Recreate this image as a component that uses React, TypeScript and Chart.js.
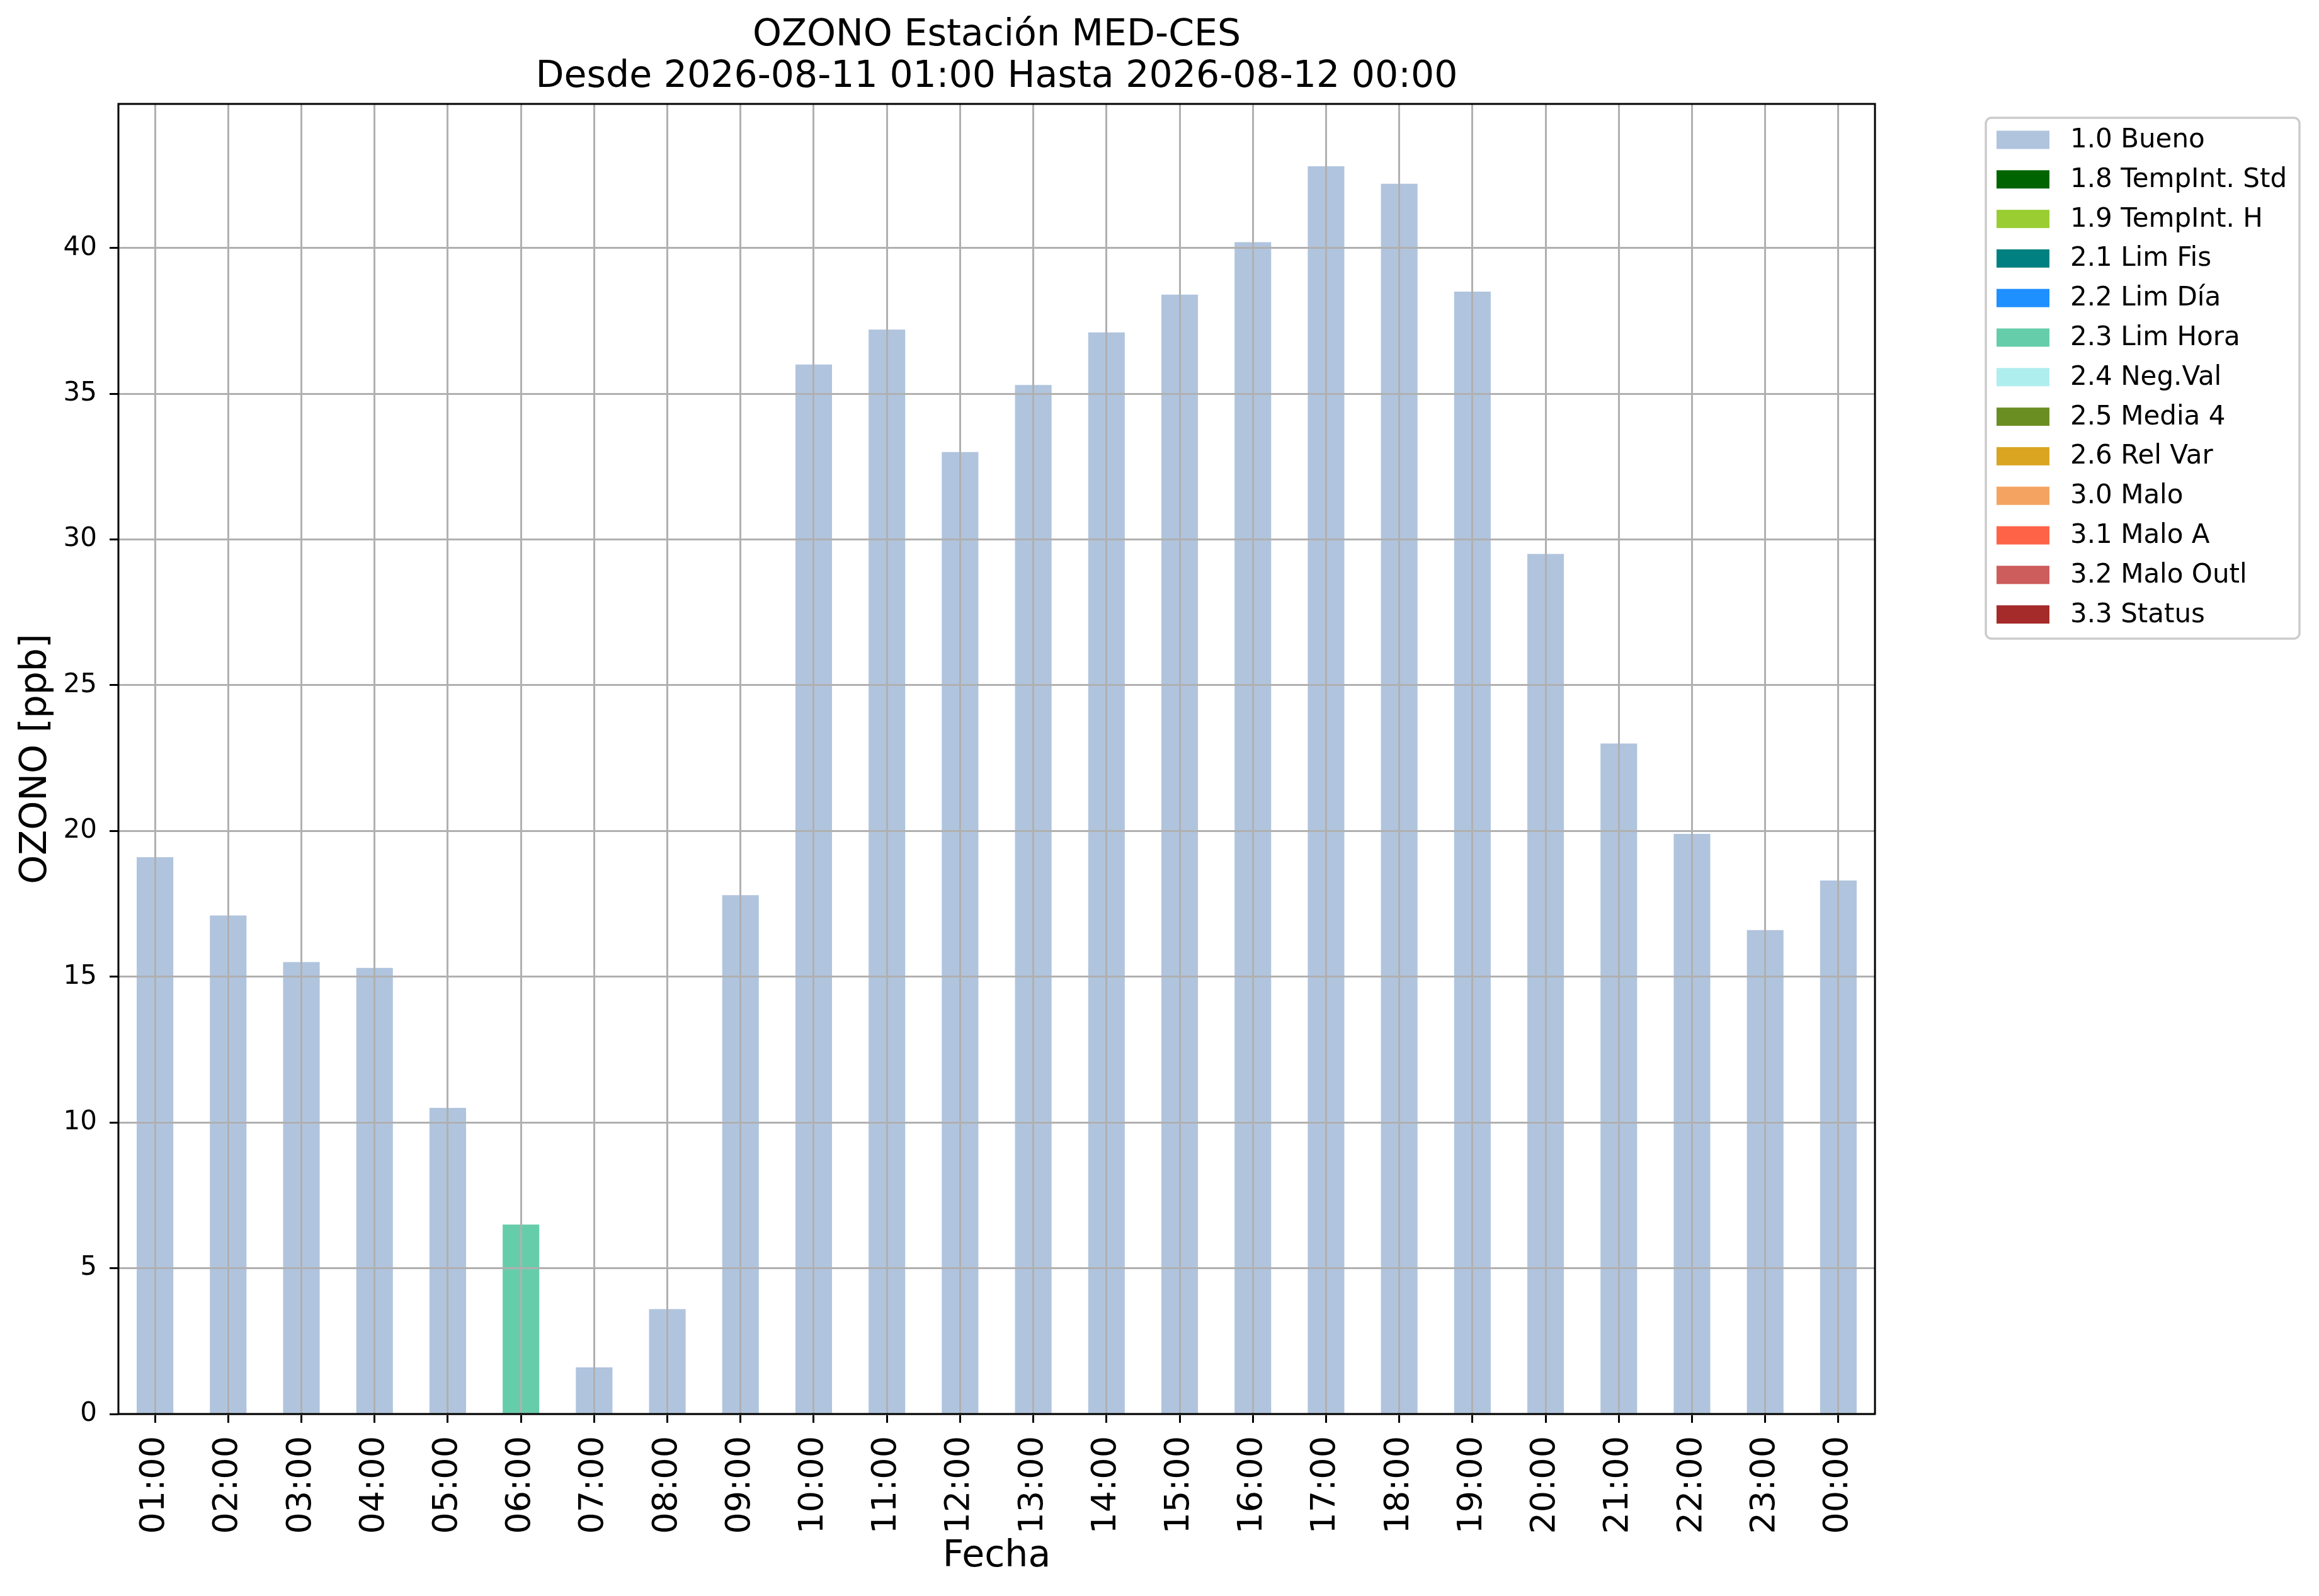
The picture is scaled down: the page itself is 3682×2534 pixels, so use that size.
import React, { useEffect, useRef } from 'react';
import { Chart, registerables } from 'chart.js';

Chart.register(...registerables);

// ---------------- data ----------------
const hours = [
  '01:00', '02:00', '03:00', '04:00', '05:00', '06:00', '07:00', '08:00',
  '09:00', '10:00', '11:00', '12:00', '13:00', '14:00', '15:00', '16:00',
  '17:00', '18:00', '19:00', '20:00', '21:00', '22:00', '23:00', '00:00',
];

const buenoValues = [
  19.1, 17.1, 15.5, 15.3, 10.5, null, 1.6, 3.6,
  17.8, 36.0, 37.2, 33.0, 35.3, 37.1, 38.4, 40.2,
  42.8, 42.2, 38.5, 29.5, 23.0, 19.9, 16.6, 18.3,
];

const limHoraValues = [
  null, null, null, null, null, 6.5, null, null,
  null, null, null, null, null, null, null, null,
  null, null, null, null, null, null, null, null,
];

const emptyValues = hours.map(() => null);

const flagLabels = [
  '1.0 Bueno', '1.8 TempInt. Std', '1.9 TempInt. H', '2.1 Lim Fis', '2.2 Lim Día',
  '2.3 Lim Hora', '2.4 Neg.Val', '2.5 Media 4', '2.6 Rel Var', '3.0 Malo',
  '3.1 Malo A', '3.2 Malo Outl', '3.3 Status',
];

const flagColors = [
  '#B0C4DE', '#006400', '#9ACD32', '#008080', '#1E90FF',
  '#66CDAA', '#AFEEEE', '#6B8E23', '#DAA520', '#F4A460',
  '#FF6347', '#CD5C5C', '#A52A2A',
];

const flagValues = [
  buenoValues, emptyValues, emptyValues, emptyValues, emptyValues,
  limHoraValues, emptyValues, emptyValues, emptyValues, emptyValues,
  emptyValues, emptyValues, emptyValues,
];

const yTickValues = [0, 5, 10, 15, 20, 25, 30, 35, 40];
const yMax = 44.94;

const titleLines = ['OZONO Estación MED-CES', 'Desde 2026-08-11 01:00 Hasta 2026-08-12 00:00'];
const xTitle = 'Fecha';
const yTitle = 'OZONO [ppb]';

// ---------------- styling ----------------
const FONT = 'DejaVu Sans';
const W = 3682;
const H = 2534;
const GRID = '#b0b0b0';
const LABEL_SIZE = 58.5;

const framePlugin = {
  id: 'mplFrame',
  afterDraw(chart: any) {
    const { ctx, chartArea } = chart;
    ctx.save();
    ctx.strokeStyle = '#000';
    ctx.lineWidth = 3;
    ctx.strokeRect(chartArea.left, chartArea.top, chartArea.right - chartArea.left, chartArea.bottom - chartArea.top);
    ctx.restore();
  },
};

const legendPlugin = {
  id: 'mplLegend',
  afterDraw(chart: any) {
    const { ctx, chartArea } = chart;
    const x0 = chartArea.right + 176;
    const y0 = chartArea.top + 22;
    const bw = 498;
    const bh = 827;
    ctx.save();
    ctx.beginPath();
    if ((ctx as any).roundRect) {
      (ctx as any).roundRect(x0, y0, bw, bh, 9);
    } else {
      ctx.rect(x0, y0, bw, bh);
    }
    ctx.fillStyle = 'rgba(255,255,255,0.8)';
    ctx.fill();
    ctx.strokeStyle = '#cccccc';
    ctx.lineWidth = 3.5;
    ctx.stroke();

    ctx.font = `42px "${FONT}"`;
    ctx.textBaseline = 'middle';
    ctx.textAlign = 'left';
    chart.data.datasets.forEach((ds: any, i: number) => {
      const cy = y0 + 35 + i * 62.8;
      ctx.fillStyle = ds.backgroundColor;
      ctx.fillRect(x0 + 17, cy - 14.5, 84, 29);
      ctx.fillStyle = '#000';
      ctx.fillText(ds.label, x0 + 134, cy + 1);
    });
    ctx.restore();
  },
};

export default function App() {
  const canvasRef = useRef<HTMLCanvasElement | null>(null);

  useEffect(() => {
    document.body.style.margin = '0';
    const canvas = canvasRef.current;
    if (!canvas) return;
    Chart.defaults.font.family = FONT;
    Chart.defaults.color = '#000';

    const datasets = flagLabels.map((label, i) => ({
      label,
      data: flagValues[i],
      backgroundColor: flagColors[i],
      borderWidth: 0,
      barPercentage: 0.5,
      categoryPercentage: 1.0,
    }));

    const chart = new Chart(canvas, {
      type: 'bar',
      data: { labels: hours, datasets },
      options: {
        animation: false,
        responsive: false,
        devicePixelRatio: 1,
        layout: { padding: { left: 0, right: 705, top: 0, bottom: 27 } },
        plugins: {
          legend: { display: false },
          tooltip: { enabled: false },
          title: {
            display: true,
            text: titleLines,
            fullSize: false,
            color: '#000',
            font: { family: FONT, size: LABEL_SIZE, weight: 'normal', lineHeight: 66 / LABEL_SIZE },
            padding: { top: 24, bottom: 9 },
          },
        },
        scales: {
          x: {
            stacked: true,
            offset: true,
            grid: {
              offset: false,
              color: GRID,
              lineWidth: 3,
              z: 1,
              drawTicks: true,
              tickLength: 14,
              tickColor: '#000',
              tickWidth: 3,
            },
            border: { display: false },
            ticks: {
              autoSkip: false,
              maxRotation: 90,
              minRotation: 90,
              padding: 21,
              color: '#000',
              font: { family: FONT, size: 54 },
            },
            title: {
              display: true,
              text: xTitle,
              color: '#000',
              font: { family: FONT, size: LABEL_SIZE, lineHeight: 1.2 },
              padding: { top: 0, bottom: 0 },
            },
            afterFit: (s: any) => {
              s.height = 262;
            },
          },
          y: {
            stacked: true,
            min: 0,
            max: yMax,
            grid: {
              color: GRID,
              lineWidth: 3,
              z: 1,
              drawTicks: true,
              tickLength: 14,
              tickColor: '#000',
              tickWidth: 3,
            },
            border: { display: false },
            ticks: {
              stepSize: 5,
              includeBounds: false,
              padding: 20,
              color: '#000',
              font: { family: FONT, size: 42 },
              callback: (v: any) => String(v),
            },
            afterBuildTicks: (s: any) => {
              s.ticks = yTickValues.map((v) => ({ value: v }));
            },
            title: {
              display: true,
              text: yTitle,
              color: '#000',
              font: { family: FONT, size: LABEL_SIZE, lineHeight: 1.2 },
              padding: { top: 23, bottom: 0 },
            },
            afterFit: (s: any) => {
              s.width = 188;
            },
          },
        },
      },
      plugins: [framePlugin, legendPlugin],
    } as any);

    return () => {
      chart.destroy();
    };
  }, []);

  return (
    <div style={{ position: 'fixed', left: 0, top: 0, width: W, height: H, background: '#fff' }}>
      <canvas ref={canvasRef} width={W} height={H} style={{ display: 'block', width: W, height: H }} />
    </div>
  );
}
